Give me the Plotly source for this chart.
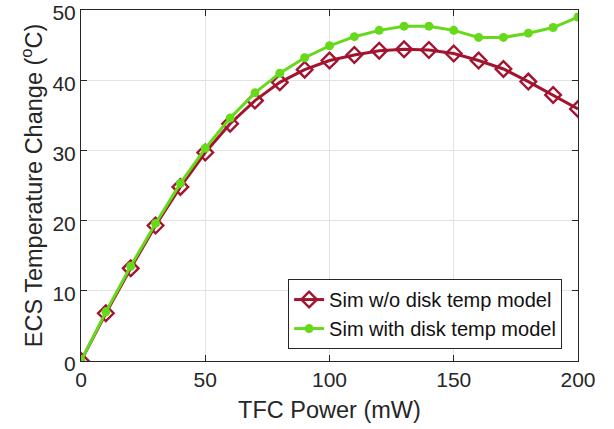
import plotly.graph_objects as go

power = [0, 10, 20, 30, 40, 50, 60, 70, 80, 90, 100, 110, 120, 130, 140, 150, 160, 170, 180, 190, 200]
sim_without = [0, 6.8, 13.2, 19.3, 24.8, 29.7, 33.8, 37.1, 39.7, 41.5, 42.8, 43.6, 44.2, 44.4, 44.3, 43.8, 42.8, 41.6, 39.8, 37.9, 35.9]
sim_with = [0, 7.0, 13.5, 19.6, 25.3, 30.3, 34.6, 38.2, 41.0, 43.2, 44.9, 46.2, 47.1, 47.7, 47.7, 47.1, 46.1, 46.1, 46.7, 47.5, 49.0]

red = "#A2142F"
green = "#66D91A"
FONT = "Liberation Sans, Arial, sans-serif"

fig = go.Figure()
fig.add_trace(go.Scatter(
    x=power, y=sim_without, mode="lines+markers", name="Sim w/o disk temp model",
    line=dict(color=red, width=3),
    marker=dict(symbol="diamond-open", size=12, color=red, line=dict(width=2.4, color=red)),
))
fig.add_trace(go.Scatter(
    x=power, y=sim_with, mode="lines+markers", name="Sim with disk temp model",
    line=dict(color=green, width=3),
    marker=dict(symbol="circle", size=9, color=green),
))

axis_common = dict(
    showgrid=True, gridcolor="#e3e3e3", gridwidth=1,
    showline=True, linecolor="#262626", linewidth=1, mirror="ticks",
    ticks="inside", ticklen=6, tickcolor="#262626",
    tickfont=dict(family=FONT, size=21, color="#262626"),
    zeroline=False, automargin=False, ticklabeloverflow="allow",
)

fig.update_layout(
    width=614, height=429,
    margin=dict(l=81, r=36, t=10, b=68),
    paper_bgcolor="white", plot_bgcolor="white",
    font=dict(family=FONT, color="#262626"),
    xaxis=dict(range=[0, 200], tickvals=[0, 50, 100, 150, 200],
               title=dict(text="TFC Power (mW)", font=dict(size=23.5), standoff=11), **axis_common),
    yaxis=dict(range=[0, 50], tickvals=[0, 10, 20, 30, 40, 50], ticklabelshift=3,
               title=dict(text="ECS Temperature Change (<sup>o</sup>C)", font=dict(size=23.5), standoff=3), **axis_common),
    legend=dict(x=0.968, y=0.034, xanchor="right", yanchor="bottom",
                bgcolor="white", bordercolor="#262626", borderwidth=1,
                font=dict(size=20, color="#111111"), tracegroupgap=0,
                itemwidth=30),
    showlegend=True,
)

fig.write_html("out.html")
